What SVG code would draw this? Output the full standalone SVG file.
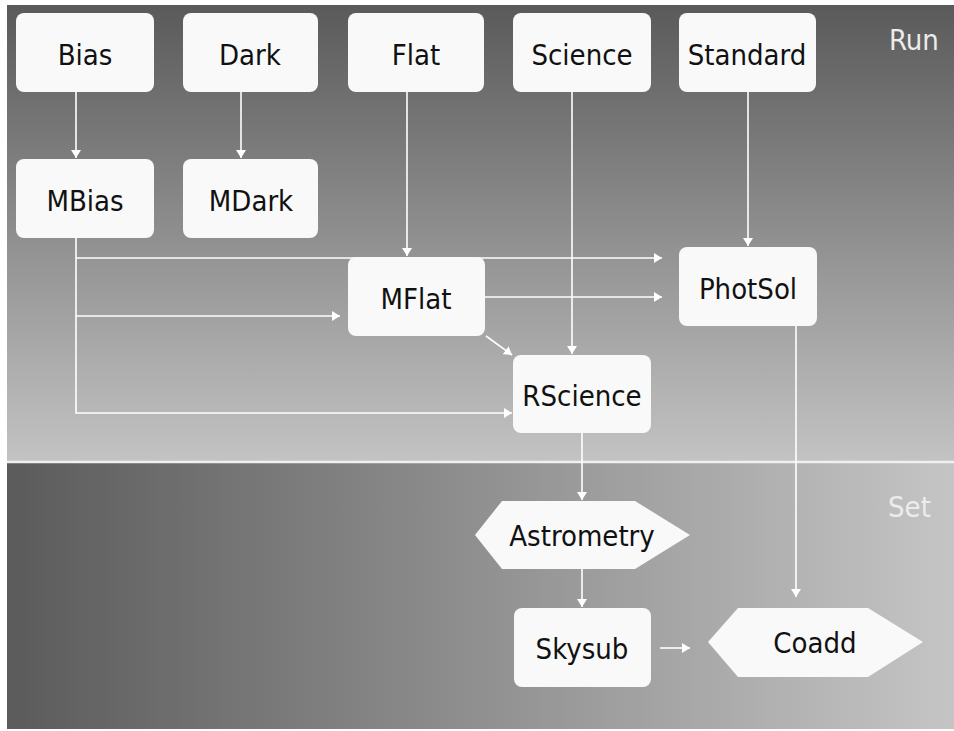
<svg xmlns="http://www.w3.org/2000/svg" width="954" height="731" viewBox="0 0 954 731">
<defs>
<linearGradient id="gRun" x1="0" y1="5" x2="0" y2="461" gradientUnits="userSpaceOnUse">
<stop offset="0" stop-color="#5a5a5a"/>
<stop offset="1" stop-color="#c3c3c3"/>
</linearGradient>
<linearGradient id="gSet" x1="7" y1="0" x2="954" y2="0" gradientUnits="userSpaceOnUse">
<stop offset="0" stop-color="#5b5b5b"/>
<stop offset="1" stop-color="#c5c5c5"/>
</linearGradient>
<marker id="ah" markerWidth="8" markerHeight="10" refX="8" refY="5" orient="auto" markerUnits="userSpaceOnUse">
<path d="M0,0 L8,5 L0,10 z" fill="#ffffff"/>
</marker>
<style>
.box{fill:#f9f9f9;}
.lbl{font-family:"DejaVu Sans Condensed","DejaVu Sans","Verdana",sans-serif;font-stretch:condensed;font-size:29px;fill:#111111;text-anchor:middle;}
.lane{font-family:"DejaVu Sans Condensed","DejaVu Sans","Verdana",sans-serif;font-stretch:condensed;font-size:29px;fill:#ececec;}
.edge{fill:none;stroke:#ffffff;stroke-width:1.6;marker-end:url(#ah);}
</style>
</defs>
<rect x="0" y="0" width="954" height="731" fill="#ffffff"/>
<rect x="7" y="5" width="947" height="457" fill="url(#gRun)"/>
<rect x="7" y="462" width="947" height="267" fill="url(#gSet)"/>
<line x1="7" y1="462" x2="954" y2="462" stroke="#f0f0f0" stroke-width="2.5"/>
<text class="lane" x="889" y="50">Run</text>
<text class="lane" x="888" y="517">Set</text>

<g id="connectors">
<path class="edge" d="M76,92 V158"/>
<path class="edge" d="M241,92 V158"/>
<path class="edge" d="M407,92 V256"/>
<path class="edge" d="M572,92 V354"/>
<path class="edge" d="M748,92 V246"/>
<path class="edge" d="M76,238 V413 H512"/>
<path class="edge" d="M76,258 H662"/>
<path class="edge" d="M76,316 H340"/>
<path class="edge" d="M485,297 H662"/>
<path class="edge" d="M486,336 L512,355"/>
<path class="edge" d="M582,433 V500"/>
<path class="edge" d="M796,326 V597"/>
<path class="edge" d="M582,569 V607"/>
<path class="edge" d="M660,648 H690"/>
</g>

<g id="bias"><rect class="box" x="16" y="13" width="138" height="79" rx="8"/><text class="lbl" x="85" y="65">Bias</text></g>
<g id="dark"><rect class="box" x="183" y="13" width="135" height="79" rx="8"/><text class="lbl" x="250" y="65">Dark</text></g>
<g id="flat"><rect class="box" x="348" y="13" width="136" height="79" rx="8"/><text class="lbl" x="416" y="65">Flat</text></g>
<g id="science"><rect class="box" x="513" y="13" width="138" height="79" rx="8"/><text class="lbl" x="582" y="65">Science</text></g>
<g id="standard"><rect class="box" x="679" y="13" width="137" height="79" rx="8"/><text class="lbl" x="747" y="65">Standard</text></g>
<g id="mbias"><rect class="box" x="16" y="159" width="138" height="79" rx="8"/><text class="lbl" x="85" y="211">MBias</text></g>
<g id="mdark"><rect class="box" x="183" y="159" width="135" height="79" rx="8"/><text class="lbl" x="251" y="211">MDark</text></g>
<g id="mflat"><rect class="box" x="348" y="257" width="137" height="79" rx="8"/><text class="lbl" x="416" y="309">MFlat</text></g>
<g id="photsol"><rect class="box" x="679" y="247" width="138" height="79" rx="8"/><text class="lbl" x="748" y="299">PhotSol</text></g>
<g id="rscience"><rect class="box" x="513" y="355" width="138" height="78" rx="8"/><text class="lbl" x="582" y="406">RScience</text></g>
<g id="astrometry"><polygon class="box" points="475,535 502,501 635,501 690,535 635,569 502,569"/><text class="lbl" x="582" y="546">Astrometry</text></g>
<g id="skysub"><rect class="box" x="514" y="608" width="137" height="79" rx="8"/><text class="lbl" x="582" y="659">Skysub</text></g>
<g id="coadd"><polygon class="box" points="708,642 738,608 868,608 923,642 868,677 738,677"/><text class="lbl" x="815" y="653">Coadd</text></g>
</svg>
